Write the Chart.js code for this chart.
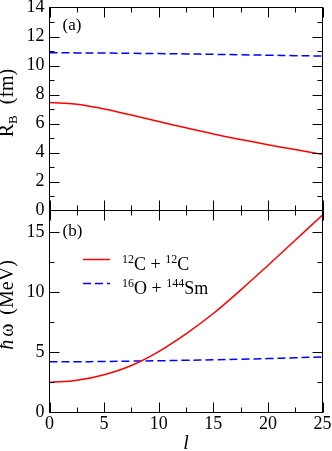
<!DOCTYPE html>
<html>
<head>
<meta charset="utf-8">
<script src="https://cdn.jsdelivr.net/npm/chart.js@4.4.1/dist/chart.umd.min.js"></script>
<style>
  body { margin: 0; background: #fff; }
  #wrap { position: relative; width: 332px; height: 451px; overflow: hidden; }
  #wrap canvas { position: absolute; left: 0; }
</style>
</head>
<body>
<div id="wrap">
  <canvas id="top-chart" width="332" height="220" style="top:0"></canvas>
  <canvas id="bottom-chart" width="332" height="251" style="top:200px"></canvas>
</div>
<script>
// angular momentum l
const L_VALUES = [0, 2.5, 5, 7.5, 10, 12.5, 15, 17.5, 20, 22.5, 25];
// (a) barrier radius R_B (fm)
const RB_CC  = [7.44, 7.33, 7.00, 6.58, 6.14, 5.70, 5.28, 4.90, 4.54, 4.20, 3.87];
const RB_OSM = [10.88, 10.87, 10.86, 10.84, 10.82, 10.80, 10.77, 10.74, 10.71, 10.68, 10.65];
// (b) barrier curvature hbar*omega (MeV)
const HW_CC  = [2.50, 2.68, 3.15, 3.92, 5.08, 6.55, 8.25, 10.20, 12.25, 14.35, 16.45];
const HW_OSM = [4.22, 4.23, 4.25, 4.28, 4.31, 4.35, 4.39, 4.44, 4.49, 4.56, 4.63];

const SERIES_NAMES = [
  [{ t: '12', sup: true }, { t: 'C + ' }, { t: '12', sup: true }, { t: 'C' }],
  [{ t: '16', sup: true }, { t: 'O + ' }, { t: '144', sup: true }, { t: 'Sm' }]
];

const SERIF = '"Liberation Serif", "DejaVu Serif", serif';
const RED = '#ff0000';
const BLUE = '#0000ff';

function pts(ys) {
  return L_VALUES.map((x, i) => ({ x: x, y: ys[i] }));
}

// draws a run of text pieces, each with its own font / vertical shift
function drawRich(ctx, pieces, x, y, center) {
  let w = 0;
  pieces.forEach(p => { ctx.font = p.font; w += (p.gap || 0) + ctx.measureText(p.t || '').width; });
  let cx = center ? x - w / 2 : x;
  pieces.forEach(p => {
    cx += p.gap || 0;
    ctx.font = p.font;
    ctx.fillText(p.t || '', cx, y + (p.dy || 0));
    cx += ctx.measureText(p.t || '').width;
  });
}

// frame with inward ticks on all four sides, plus titles and panel labels
const decoPlugin = {
  id: 'deco',
  afterDraw(chart, args, o) {
    const { ctx, chartArea: a } = chart;
    const x = chart.scales.x, y = chart.scales.y;
    ctx.save();
    ctx.strokeStyle = '#000';
    ctx.lineWidth = 1;
    ctx.strokeRect(a.left, a.top, a.right - a.left, a.bottom - a.top);
    ctx.beginPath();
    for (let v = 0; v <= 25 + 1e-6; v += 2.5) {
      const px = Math.round(x.getPixelForValue(v)) + 0.5;
      const len = Math.abs(v % 5) < 1e-6 ? 10 : 5;
      ctx.moveTo(px, a.bottom); ctx.lineTo(px, a.bottom - len);
      ctx.moveTo(px, a.top); ctx.lineTo(px, a.top + len);
    }
    for (let v = o.yMinor; v < y.max; v += o.yMinor) {
      const py = Math.round(y.getPixelForValue(v)) + 0.5;
      const len = Math.abs(v % o.yMajor) < 1e-6 ? 10 : 5;
      ctx.moveTo(a.left, py); ctx.lineTo(a.left + len, py);
      ctx.moveTo(a.right, py); ctx.lineTo(a.right - len, py);
    }
    ctx.stroke();

    ctx.fillStyle = '#000';
    ctx.textBaseline = 'alphabetic';
    ctx.textAlign = 'left';
    // panel label
    ctx.font = '17px ' + SERIF;
    ctx.fillText(o.panel, a.left + 13, a.top + o.panelDy);

    // rotated y title
    ctx.save();
    ctx.translate(13, o.titleY);
    ctx.rotate(-Math.PI / 2);
    drawRich(ctx, o.yTitle, 0, 0, true);
    ctx.restore();

    // x title
    if (o.xTitle) {
      ctx.font = 'italic 20px ' + SERIF;
      ctx.textAlign = 'center';
      ctx.fillText(o.xTitle, (a.left + a.right) / 2, chart.height - 2);
      ctx.textAlign = 'left';
    }

    // legend
    if (o.legend) {
      const colors = [RED, BLUE];
      const dashes = [[], [8, 4]];
      SERIES_NAMES.forEach((name, i) => {
        const base = a.top + 59 + i * 24;
        ctx.strokeStyle = colors[i];
        ctx.lineWidth = 1.5;
        ctx.setLineDash(dashes[i]);
        ctx.beginPath();
        ctx.moveTo(a.left + 33.5, base - 10);
        ctx.lineTo(a.left + 60.5, base - 10);
        ctx.stroke();
        ctx.setLineDash([]);
        drawRich(ctx, name.map(p => ({
          t: p.t,
          font: (p.sup ? '12px ' : '18px ') + SERIF,
          dy: p.sup ? -7 : 0
        })), a.left + 72.5, base, false);
      });
    }
    ctx.restore();
  }
};

function fixedY(width) {
  return function (scale) {
    scale.width = width;
    scale.paddingTop = 0;
    scale.paddingBottom = 0;
  };
}

function lineSet(data, color, dash) {
  return {
    data: data,
    borderColor: color,
    borderWidth: 1.5,
    borderDash: dash,
    pointRadius: 0,
    fill: false,
    tension: 0.4
  };
}

const tickFont = { family: SERIF, size: 18 };

// (a) top panel
new Chart(document.getElementById('top-chart'), {
  type: 'line',
  data: {
    datasets: [
      lineSet(pts(RB_CC), RED, []),
      lineSet(pts(RB_OSM), BLUE, [8, 4])
    ]
  },
  options: {
    responsive: false,
    animation: false,
    devicePixelRatio: 1,
    layout: { padding: { top: 7.5, right: 9.5, bottom: 9.5, left: 0 } },
    plugins: {
      legend: { display: false },
      tooltip: { enabled: false },
      deco: {
        panel: '(a)', panelDy: 22, yMajor: 2, yMinor: 1, titleY: 103,
        yTitle: [
          { t: 'R', font: '20px ' + SERIF },
          { t: 'B', font: '13px ' + SERIF, dy: 4 },
          { t: '(fm)', font: '20px ' + SERIF, gap: 11 }
        ]
      }
    },
    scales: {
      x: { type: 'linear', min: 0, max: 25, display: false },
      y: {
        min: 0, max: 14,
        afterFit: fixedY(49.5),
        grid: { display: false, drawTicks: false },
        border: { display: false },
        ticks: { stepSize: 2, padding: 5, color: '#000', font: tickFont }
      }
    }
  },
  plugins: [decoPlugin]
});

// (b) bottom panel
new Chart(document.getElementById('bottom-chart'), {
  type: 'line',
  data: {
    datasets: [
      lineSet(pts(HW_CC), RED, []),
      lineSet(pts(HW_OSM), BLUE, [8, 4])
    ]
  },
  options: {
    responsive: false,
    animation: false,
    devicePixelRatio: 1,
    layout: { padding: { top: 10.5, right: 9.5, bottom: 0, left: 0 } },
    plugins: {
      legend: { display: false },
      tooltip: { enabled: false },
      deco: {
        panel: '(b)', panelDy: 25, yMajor: 5, yMinor: 2.5, titleY: 105, xTitle: 'l', legend: true,
        yTitle: [
          { t: 'ħ', font: 'italic 20px ' + SERIF },
          { t: 'ω', font: '20px ' + SERIF, gap: 3 },
          { t: '(MeV)', font: '20px ' + SERIF, gap: 9 }
        ]
      }
    },
    scales: {
      x: {
        type: 'linear', min: 0, max: 25,
        afterFit: function (scale) { scale.height = 38.5; scale.paddingLeft = 0; scale.paddingRight = 0; },
        grid: { display: false, drawTicks: false },
        border: { display: false },
        ticks: { stepSize: 5, padding: 1, color: '#000', font: tickFont, maxRotation: 0 }
      },
      y: {
        min: 0, max: 16.83,
        afterFit: fixedY(49.5),
        afterBuildTicks: function (scale) {
          scale.ticks = scale.ticks.filter(t => Math.abs(t.value % 5) < 1e-6);
        },
        grid: { display: false, drawTicks: false },
        border: { display: false },
        ticks: { stepSize: 5, padding: 5, color: '#000', font: tickFont }
      }
    }
  },
  plugins: [decoPlugin]
});
</script>
</body>
</html>
